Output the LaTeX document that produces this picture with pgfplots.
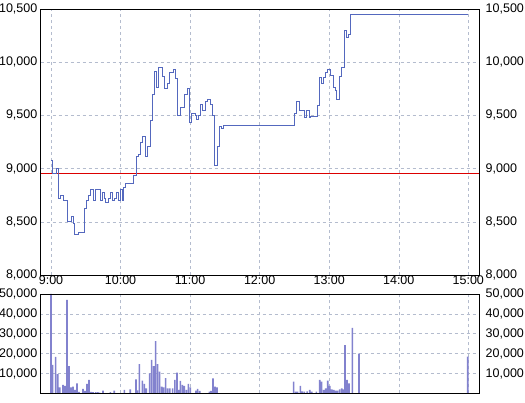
\documentclass[border=0pt]{standalone}
\usepackage{pgfplots}
\pgfplotsset{compat=1.18}
\usepackage{fontspec}
\setmainfont{Liberation Sans}
\definecolor{pline}{RGB}{84,104,190}
\definecolor{vbar}{RGB}{130,130,206}
\definecolor{gridc}{RGB}{180,188,206}
\definecolor{prevc}{RGB}{220,0,0}

\pgfplotstableread{
m price
0 9075
1.4 8950
4.9 9000
6.6 8720
8.3 8750
10.6 8700
14.4 8500
17.3 8550
19.0 8480
20.4 8380
23.3 8400
29.0 8630
30.8 8700
32.5 8750
34.2 8800
36.5 8700
38.2 8800
42.3 8700
44.0 8780
45.7 8720
47.4 8680
49.2 8720
50.9 8780
52.6 8700
54.4 8720
56.1 8780
57.8 8700
59.5 8800
61.3 8700
62.4 8820
64.1 8860
71.0 8940
73.9 9110
75.6 9130
77.4 9250
79.1 9300
81.4 9110
83.1 9210
86.0 9450
87.7 9700
88.9 9910
91.2 9760
92.9 9950
95.8 9870
97.5 9750
100.4 9800
102.1 9900
105.5 9930
107.3 9850
109.0 9500
111.9 9570
114.7 9700
117.6 9750
119.3 9430
121.4 9520
124.2 9500
125.7 9460
127.1 9500
129.1 9600
130.8 9550
132.9 9630
134.9 9650
137.7 9600
139.5 9500
140.6 9030
143.5 9210
145.2 9400
146.7 9380
148.7 9410
209.9 9520
211.9 9630
213.9 9550
218.6 9480
220.6 9550
222.6 9480
224.0 9490
230.1 9590
231.5 9860
232.9 9800
234.9 9860
236.4 9900
238.7 9930
240.7 9880
243.6 9760
245.0 9730
246.5 9650
248.5 9870
250.8 9950
252.8 10300
254.5 10230
256.5 10260
258.5 10450
360 10450
}\pricetable

\pgfplotstableread{
m vol
0 50000
1.4 14300
4.0 18400
5.8 9700
7.5 3000
10.4 4200
12.1 3700
13.8 47000
15.5 13700
17.3 3000
19.0 3400
20.7 1700
22.4 5000
24.2 700
27.6 2200
29.3 1200
31.1 4700
32.8 6700
34.5 700
36.2 600
38.5 600
40.3 600
42.0 400
44.9 1300
51.2 600
54.6 1300
63.3 1700
68.4 2000
73.3 7000
74.5 1500
76.2 14700
78.8 6400
80.5 4700
82.2 2500
85.1 10000
86.8 16800
88.6 13700
90.3 26300
92.0 14700
93.7 10900
95.5 3400
97.2 3000
98.9 7700
100.6 2500
102.4 2500
104.9 2500
106.9 6700
108.7 10400
110.4 1700
111.6 6200
113.3 4200
115.0 3700
116.8 1700
118.5 4700
120.2 3000
125.1 1300
126.5 2200
128.3 1200
136.6 900
138.0 1200
139.8 7500
141.5 3400
143.2 3000
209.3 5900
211.1 800
212.8 800
215.1 3700
216.8 1000
218.6 800
220.9 1000
223.2 1700
224.9 800
228.9 800
231.8 6700
233.5 5900
235.3 1700
237.0 2500
238.7 6400
240.5 3700
242.2 2000
243.9 1700
245.6 1300
247.3 1300
249.0 2000
250.8 2500
252.5 2000
253.6 24300
255.4 6700
257.1 5000
260.0 33000
265.7 20000
359.5 18500
}\voltable

\pgfplotsset{
  base/.style={
    scale only axis, width=439pt, xmin=-9.06, xmax=369.66,
    anchor=south west,
    axis line style={black, line width=0.8pt},
    major tick length=0pt,
    tick label style={font=\fontsize{12.5}{14}\selectfont},
    /pgf/number format/1000 sep={,},
    /pgf/number format/assume math mode=true,
    scaled y ticks=false,
    grid style={gridc, dash pattern=on 3pt off 3pt, line width=0.5pt},
    xtick={0,60,...,360},
    yticklabel style={inner sep=3pt},
  },
  rightlab/.style={
    yticklabel pos=right, xtick=\empty, grid=none,
    yticklabel style={inner sep=3pt, xshift=3pt},
  },
}

\begin{document}
\begin{tikzpicture}
% main price axis
\begin{axis}[base, at={(40.5pt,128pt)}, height=266pt,
  ymin=8000, ymax=10500, ytick={8000,8500,...,10500},
  grid=major,
  xticklabels={9:00,10:00,11:00,12:00,13:00,14:00,15:00},
  xticklabel style={inner sep=1pt},
  yticklabel pos=left]
\addplot[prevc, line width=0.9pt] coordinates {(-20,8950) (380,8950)};
\addplot[const plot, pline, line width=0.9pt] table[x=m, y=price] {\pricetable};
\end{axis}
\begin{axis}[base, rightlab, at={(40.5pt,128pt)}, height=266pt,
  ymin=8000, ymax=10500, ytick={8000,8500,...,10500}]
\end{axis}
% volume axis
\begin{axis}[base, at={(40.5pt,9.7pt)}, height=99.3pt,
  ymin=0, ymax=50000, ytick={10000,20000,...,50000},
  grid=major, xticklabels={},
  yticklabel pos=left]
\addplot[ybar, bar width=1.4, bar shift=0pt, fill=vbar, draw=none] table[x=m, y=vol] {\voltable};
\end{axis}
\begin{axis}[base, rightlab, at={(40.5pt,9.7pt)}, height=99.3pt,
  ymin=0, ymax=50000, ytick={10000,20000,...,50000}]
\end{axis}
\pgfresetboundingbox
\useasboundingbox (0,0) rectangle (525pt,403pt);
\end{tikzpicture}
\end{document}
